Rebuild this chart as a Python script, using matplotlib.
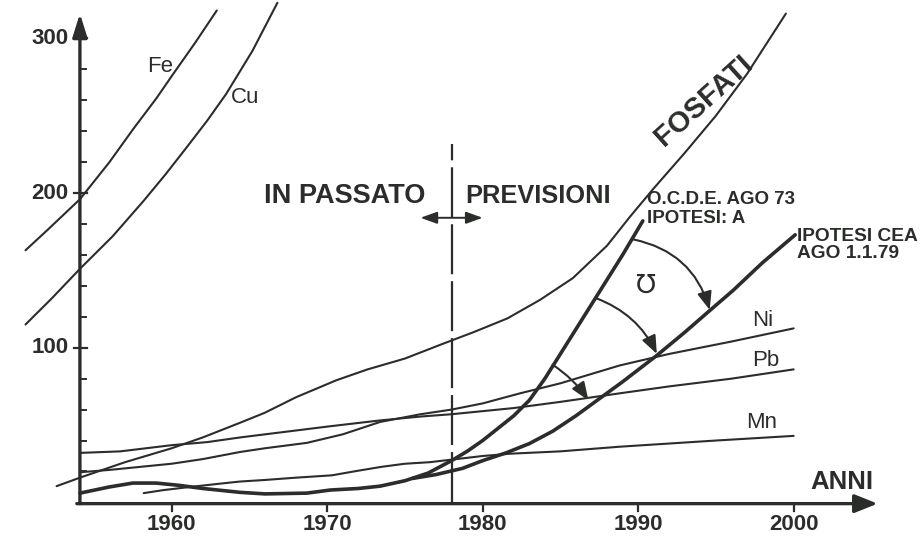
import matplotlib.pyplot as plt
from matplotlib.patches import FancyArrowPatch

### Data (years, index values)

fe_years = [1950.6, 1952, 1954.1, 1956, 1957.5, 1959, 1960.1, 1961.5, 1962.9]
fe_vals = [163, 176, 196, 220, 241, 261, 277, 297, 318]

cu_years = [1950.6, 1952.3, 1954.1, 1956.2, 1958.2, 1959.6, 1961, 1962.3, 1963.5, 1965.2, 1966.8]
cu_vals = [115, 132, 151, 172, 195, 212, 230, 247, 264, 292, 323]

fos_years = [1952.6, 1954.1, 1957, 1960, 1962, 1964.4, 1966, 1968, 1970.6, 1972.6, 1975,
             1977.3, 1979.4, 1981.6, 1983.7, 1985.8, 1988, 1989.5, 1991, 1993, 1995, 1997, 1999.5]
fos_vals = [10.5, 16, 26, 35, 42, 51.5, 58, 68, 79, 86, 93,
            102, 110, 119, 131, 145, 166, 185, 203, 226, 250, 277, 316]

ni_years = [1954.1, 1956, 1958, 1960, 1962, 1964.4, 1966, 1968.7, 1971, 1973.4, 1976, 1978,
            1980, 1982.4, 1985, 1988.8, 1992, 1996, 2000]
ni_vals = [19.5, 21, 23, 25, 28, 32.6, 35, 38.5, 44, 52, 57, 60, 64, 70.5, 77, 88.5, 96, 104, 112.5]

pb_years = [1954.1, 1956.7, 1960, 1962.3, 1964.4, 1966, 1968, 1970, 1973.4, 1976, 1978, 1982,
            1985, 1988.8, 1992, 1996, 2000]
pb_vals = [32, 33, 37, 39, 42, 44, 46.5, 49, 53, 55.5, 57, 61, 65, 70.5, 75, 80, 86]

mn_years = [1958.2, 1959.5, 1961.2, 1963, 1964.4, 1966, 1968, 1970.3, 1972, 1973.5, 1975, 1976.6,
            1978.3, 1980, 1981.8, 1985, 1988.8, 1995, 2000]
mn_vals = [6, 8, 10, 12, 13.5, 14.5, 16, 17.5, 20.5, 23, 25, 26, 28, 30, 31.5, 33, 36, 40, 43]

ocde_years = [1954.1, 1956, 1957.5, 1959, 1960.5, 1962, 1964.4, 1966, 1968.7, 1970.2, 1972, 1973.4,
              1975, 1976.5, 1978, 1979, 1980, 1981, 1982, 1983, 1984, 1985, 1986, 1987, 1988, 1989, 1990.3]
ocde_vals = [6, 10, 12.5, 12.5, 11, 9, 6.5, 5.5, 6, 8, 9, 10.5,
             14, 19, 27, 33, 40, 48, 56, 66, 80, 96, 112, 128, 144, 160, 182]

cea_years = [1975.5, 1977, 1978.7, 1980, 1981.5, 1983, 1984.5, 1986, 1987.5, 1989, 1991.2, 1993,
             1994.6, 1996.1, 1998, 2000.1]
cea_vals = [15.5, 18, 22, 27, 32, 38, 46, 56, 67, 78, 95, 110, 124, 137, 155, 173]

x_ticks = [1960, 1970, 1980, 1990, 2000]
y_ticks = [100, 200, 300]
y_minor = [20, 40, 60, 80, 120, 140, 160, 180, 220, 240, 260, 280]
split_year = 1978

# arrows between the two forecasts (start on OCDE, end on CEA)
shift_arrows = [((1989.7, 170), (1994.6, 124.4), -0.3),
                ((1987.3, 132), (1991.2, 96), -0.2),
                ((1984.5, 89), (1986.8, 66), -0.1)]

ink = '#2a2d2a'
plt.rcParams['lines.scale_dashes'] = False

fig = plt.figure(figsize=(9.21, 5.39), dpi=100)
ax = fig.add_axes([0, 0, 1, 1])
ax.set_xlim(1948.96, 2008.19)
ax.set_ylim(-23.66, 324.8)
ax.axis('off')

thin = dict(color=ink, lw=1.5, solid_capstyle='round', solid_joinstyle='round')
thick = dict(color=ink, lw=2.6, solid_capstyle='round', solid_joinstyle='round')

ax.plot(fe_years, fe_vals, **thin)
ax.plot(cu_years, cu_vals, **thin)
ax.plot(fos_years, fos_vals, **thin)
ax.plot(ni_years, ni_vals, **thin)
ax.plot(pb_years, pb_vals, **thin)
ax.plot(mn_years, mn_vals, **thin)
ax.plot(ocde_years, ocde_vals, **thick)
ax.plot(cea_years, cea_vals, **thick)

# axes with arrow heads
ax.annotate('', xy=(1954.1, 316), xytext=(1954.1, -0.8),
            arrowprops=dict(arrowstyle='-|>,head_length=0.7,head_width=0.22', lw=2.4,
                            color=ink, mutation_scale=20, shrinkA=0, shrinkB=0))
ax.annotate('', xy=(2005.4, -0.8), xytext=(1953.9, -0.8),
            arrowprops=dict(arrowstyle='-|>,head_length=0.7,head_width=0.28', lw=2.4,
                            color=ink, mutation_scale=20, shrinkA=0, shrinkB=0))

for t in x_ticks:
    ax.plot([t, t], [-0.8, -5.5], color=ink, lw=1.6)
    ax.text(t, -14.5, str(t), ha='center', va='center', fontsize=16, fontweight='bold',
            family=['Liberation Sans Narrow', 'Liberation Sans'], color=ink)
for t in y_ticks:
    ax.plot([1953.75, 1954.55], [t, t], color=ink, lw=1.6)
    ax.text(1953.35, t, str(t), ha='right', va='center', fontsize=16, fontweight='bold',
            family=['Liberation Sans Narrow', 'Liberation Sans'], color=ink)
for t in y_minor:
    ax.plot([1954.1, 1954.5], [t, t], color=ink, lw=1.4)

ax.text(2003.1, 13.5, 'ANNI', ha='center', va='center', fontsize=18.5, fontweight='bold',
        family='Liberation Sans', color=ink)

# past / forecast separator
ax.plot([split_year, split_year], [0, 232], color=ink, lw=1.6, dashes=(36, 5))
ax.annotate('', xy=(1976.0, 184), xytext=(1980.0, 184),
            arrowprops=dict(arrowstyle='<|-|>,head_length=0.5,head_width=0.18', lw=1.4,
                            color=ink, mutation_scale=20, shrinkA=0, shrinkB=0))
ax.text(1976.3, 198, 'IN PASSATO', ha='right', va='center', fontsize=19.5, fontweight='bold',
        family='Liberation Sans', color=ink)
ax.text(1978.9, 198, 'PREVISIONI', ha='left', va='center', fontsize=18.3, fontweight='bold',
        family='Liberation Sans', color=ink)

ax.text(1990.6, 189.7, 'O.C.D.E. AGO 73\nIPOTESI: A', ha='left', va='center', fontsize=13.5,
        fontweight='bold', family='Liberation Sans', color=ink, linespacing=1.1)
ax.text(2000.2, 166.4, 'IPOTESI CEA\nAGO 1.1.79', ha='left', va='center', fontsize=13.8,
        fontweight='bold', family='Liberation Sans', color=ink, linespacing=0.95)

# series labels
lab = dict(ha='center', va='center', fontsize=16, family='Liberation Sans', color=ink)
ax.text(1959.25, 281.5, 'Fe', **lab)
ax.text(1964.7, 261.5, 'Cu', **lab)
ax.text(1998.0, 117.5, 'Ni', **lab)
ax.text(1998.2, 91.5, 'Pb', **lab)
ax.text(1997.95, 51.5, 'Mn', **lab)
ax.text(1994.2, 260, 'FOSFATI', ha='center', va='center', fontsize=21, fontweight='bold',
        family='Liberation Sans', color=ink, rotation=42)
ax.text(1990.5, 140, '℧', ha='center', va='center', fontsize=19, family='DejaVu Sans', color=ink)

for start, end, rad in shift_arrows:
    ax.add_patch(FancyArrowPatch(start, end, connectionstyle=f'arc3,rad={rad}',
                                 arrowstyle='-|>,head_length=0.55,head_width=0.22',
                                 mutation_scale=20, lw=1.5, color=ink,
                                 shrinkA=0, shrinkB=0))

fig.savefig('out.png', dpi=100, facecolor='white')
